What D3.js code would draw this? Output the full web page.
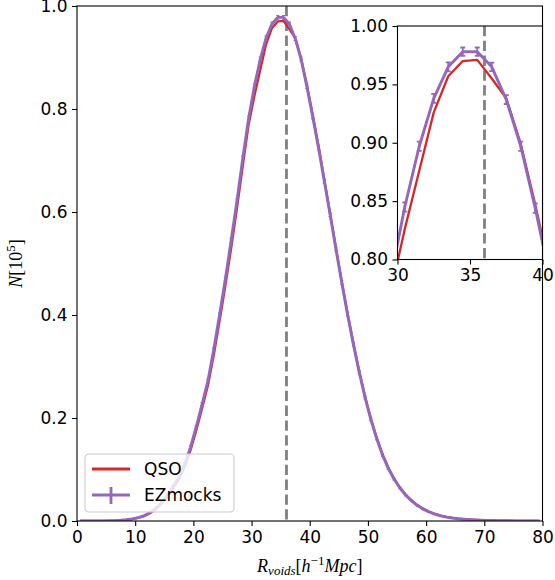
<!DOCTYPE html>
<html>
<head>
<meta charset="utf-8">
<script src="https://cdn.jsdelivr.net/npm/d3@7"></script>
<style>
    body { margin: 0; background: #fff; }
    svg text { font-family: "DejaVu Sans", sans-serif; fill: #000; }
    .math { font-family: "Liberation Serif", "DejaVu Serif", serif; font-style: italic; }
</style>
</head>
<body>
<script>

// bin centres of the void radius histogram (h^-1 Mpc)
const radius = [
    0.5, 1.5, 2.5, 3.5, 4.5, 5.5, 6.5, 7.5, 8.5, 9.5,
    10.5, 11.5, 12.5, 13.5, 14.5, 15.5, 16.5, 17.5, 18.5, 19.5,
    20.5, 21.5, 22.5, 23.5, 24.5, 25.5, 26.5, 27.5, 28.5, 29.5,
    30.5, 31.5, 32.5, 33.5, 34.5, 35.5, 36.5, 37.5, 38.5, 39.5,
    40.5, 41.5, 42.5, 43.5, 44.5, 45.5, 46.5, 47.5, 48.5, 49.5,
    50.5, 51.5, 52.5, 53.5, 54.5, 55.5, 56.5, 57.5, 58.5, 59.5,
    60.5, 61.5, 62.5, 63.5, 64.5, 65.5, 66.5, 67.5, 68.5, 69.5,
    70.5, 71.5, 72.5, 73.5, 74.5, 75.5, 76.5, 77.5, 78.5, 79.5
];

// N [10^5] for the QSO catalogue
const qsoCounts = [
    0.0000, 0.0000, 0.0000, 0.0001, 0.0002, 0.0004, 0.0007, 0.0013, 0.0023, 0.0037,
    0.0060, 0.0094, 0.0148, 0.0224, 0.0330, 0.0465, 0.0635, 0.0810, 0.1050, 0.1370,
    0.1760, 0.2190, 0.2630, 0.3220, 0.3880, 0.4570, 0.5300, 0.6080, 0.6900, 0.7700,
    0.8260, 0.8760, 0.9260, 0.9570, 0.9700, 0.9710, 0.9550, 0.9380, 0.8990, 0.8470,
    0.7900, 0.7290, 0.6630, 0.5970, 0.5300, 0.4650, 0.4030, 0.3450, 0.2910, 0.2420,
    0.1990, 0.1620, 0.1300, 0.1040, 0.0825, 0.0650, 0.0510, 0.0400, 0.0310, 0.0240,
    0.0182, 0.0138, 0.0104, 0.0079, 0.0060, 0.0046, 0.0035, 0.0027, 0.0021, 0.0016,
    0.0012, 0.0009, 0.0007, 0.0005, 0.0004, 0.0003, 0.0002, 0.0002, 0.0001, 0.0001
];

// N [10^5] mean of the EZmocks
const ezCounts = [
    0.0000, 0.0000, 0.0000, 0.0001, 0.0002, 0.0004, 0.0008, 0.0014, 0.0025, 0.0040,
    0.0065, 0.0100, 0.0160, 0.0240, 0.0350, 0.0490, 0.0670, 0.0850, 0.1100, 0.1430,
    0.1830, 0.2270, 0.2720, 0.3330, 0.4000, 0.4700, 0.5450, 0.6220, 0.7050, 0.7820,
    0.8450, 0.8970, 0.9380, 0.9650, 0.9780, 0.9780, 0.9650, 0.9370, 0.8970, 0.8440,
    0.7850, 0.7250, 0.6600, 0.5950, 0.5280, 0.4630, 0.4010, 0.3430, 0.2890, 0.2400,
    0.1970, 0.1600, 0.1280, 0.1020, 0.0810, 0.0640, 0.0500, 0.0390, 0.0300, 0.0230,
    0.0175, 0.0133, 0.0100, 0.0076, 0.0058, 0.0044, 0.0034, 0.0026, 0.0020, 0.0015,
    0.0012, 0.0009, 0.0007, 0.0005, 0.0004, 0.0003, 0.0002, 0.0002, 0.0001, 0.0001
];

// error on the EZmocks mean
const ezErrors = [
    0.0000, 0.0000, 0.0000, 0.0001, 0.0001, 0.0002, 0.0002, 0.0003, 0.0004, 0.0005,
    0.0006, 0.0008, 0.0010, 0.0012, 0.0014, 0.0017, 0.0019, 0.0021, 0.0024, 0.0026,
    0.0028, 0.0030, 0.0032, 0.0033, 0.0035, 0.0036, 0.0037, 0.0038, 0.0039, 0.0040,
    0.0040, 0.0040, 0.0039, 0.0038, 0.0036, 0.0036, 0.0037, 0.0038, 0.0039, 0.0040,
    0.0040, 0.0040, 0.0039, 0.0038, 0.0037, 0.0035, 0.0034, 0.0032, 0.0030, 0.0028,
    0.0026, 0.0024, 0.0022, 0.0019, 0.0017, 0.0015, 0.0013, 0.0012, 0.0010, 0.0009,
    0.0008, 0.0007, 0.0006, 0.0005, 0.0004, 0.0004, 0.0003, 0.0003, 0.0002, 0.0002,
    0.0002, 0.0001, 0.0001, 0.0001, 0.0001, 0.0000, 0.0000, 0.0000, 0.0000, 0.0000
];

const peakRadius = 36;
const mainXTicks = [0, 10, 20, 30, 40, 50, 60, 70, 80];
const mainYTicks = [0.0, 0.2, 0.4, 0.6, 0.8, 1.0];
const insetXTicks = [30, 35, 40];
const insetYTicks = [0.80, 0.85, 0.90, 0.95, 1.00];

const COLORS = { qso: "#d62728", ez: "#9467bd", peak: "#808080" };

const SCREEN = { width: 555, height: 580 };
const MAIN = { left: 77, right: 542.5, top: 6, bottom: 521, cap: 1.6, capWidth: 1.1 };
const INSET = { left: 397.5, right: 542.5, top: 26, bottom: 259.5, cap: 2.5, capWidth: 1.8 };

const rows = radius.map((r, i) => ({ r: r, qso: qsoCounts[i], ez: ezCounts[i], err: ezErrors[i] }));

const svg = d3.select("body").append("svg")
    .attr("width", SCREEN.width)
    .attr("height", SCREEN.height);

function drawPanel(box, xDomain, yDomain, xTicks, yTicks, xFmt, yFmt, id) {
    const x = d3.scaleLinear(xDomain, [box.left, box.right]);
    const y = d3.scaleLinear(yDomain, [box.bottom, box.top]);
    const g = svg.append("g");

    g.append("rect")
        .attr("x", box.left).attr("y", box.top)
        .attr("width", box.right - box.left).attr("height", box.bottom - box.top)
        .attr("fill", "#fff");

    g.append("clipPath").attr("id", id)
        .append("rect")
        .attr("x", box.left).attr("y", box.top)
        .attr("width", box.right - box.left).attr("height", box.bottom - box.top);

    const plot = g.append("g").attr("clip-path", `url(#${id})`);

    // vertical reference line at the peak
    plot.append("line")
        .attr("x1", x(peakRadius)).attr("x2", x(peakRadius))
        .attr("y1", box.top).attr("y2", box.bottom)
        .attr("stroke", COLORS.peak)
        .attr("stroke-width", 2.8)
        .attr("stroke-dasharray", "10.3,4.5");

    plot.append("path")
        .datum(rows)
        .attr("fill", "none")
        .attr("stroke", COLORS.qso)
        .attr("stroke-width", 2.3)
        .attr("stroke-linejoin", "round")
        .attr("d", d3.line().x(d => x(d.r)).y(d => y(d.qso)));

    plot.append("path")
        .datum(rows)
        .attr("fill", "none")
        .attr("stroke", COLORS.ez)
        .attr("stroke-width", 2.9)
        .attr("stroke-linejoin", "round")
        .attr("d", d3.line().x(d => x(d.r)).y(d => y(d.ez)));

    // error bars with caps
    const bars = plot.append("g")
        .attr("stroke", COLORS.ez)
        .attr("stroke-width", box.capWidth)
        .selectAll("g")
        .data(rows.filter(d => d.err > 0))
        .join("g");
    bars.append("line")
        .attr("x1", d => x(d.r)).attr("x2", d => x(d.r))
        .attr("y1", d => y(d.ez - d.err)).attr("y2", d => y(d.ez + d.err));
    bars.append("line")
        .attr("x1", d => x(d.r) - box.cap).attr("x2", d => x(d.r) + box.cap)
        .attr("y1", d => y(d.ez - d.err)).attr("y2", d => y(d.ez - d.err));
    bars.append("line")
        .attr("x1", d => x(d.r) - box.cap).attr("x2", d => x(d.r) + box.cap)
        .attr("y1", d => y(d.ez + d.err)).attr("y2", d => y(d.ez + d.err));

    // axes
    const xAxis = g.append("g")
        .attr("transform", `translate(0,${box.bottom})`)
        .call(d3.axisBottom(x).tickValues(xTicks).tickFormat(xFmt).tickSize(5).tickPadding(4.5));
    const yAxis = g.append("g")
        .attr("transform", `translate(${box.left},0)`)
        .call(d3.axisLeft(y).tickValues(yTicks).tickFormat(yFmt).tickSize(5).tickPadding(4.5));
    [xAxis, yAxis].forEach(a => {
        a.select(".domain").remove();
        a.selectAll(".tick line").attr("stroke", "#000").attr("stroke-width", 1.1);
        a.selectAll("text").attr("font-size", 17).attr("font-family", "DejaVu Sans");
    });

    g.append("rect")
        .attr("x", box.left).attr("y", box.top)
        .attr("width", box.right - box.left).attr("height", box.bottom - box.top)
        .attr("fill", "none")
        .attr("stroke", "#000")
        .attr("stroke-width", 1.1);

    return { x, y, g };
}

drawPanel(MAIN, [0, 80], [0, 1], mainXTicks, mainYTicks, d3.format("d"), d3.format(".1f"), "clip-main");

// legend
const legend = svg.append("g").attr("transform", "translate(85,454)");
legend.append("rect")
    .attr("width", 149).attr("height", 58)
    .attr("rx", 4)
    .attr("fill", "#fff").attr("fill-opacity", 0.8)
    .attr("stroke", "#cccccc").attr("stroke-width", 1.1);
legend.append("line")
    .attr("x1", 7).attr("x2", 45).attr("y1", 15).attr("y2", 15)
    .attr("stroke", COLORS.qso).attr("stroke-width", 2.8);
legend.append("text")
    .attr("x", 59).attr("y", 21)
    .attr("font-size", 17)
    .text("QSO");
legend.append("line")
    .attr("x1", 7).attr("x2", 45).attr("y1", 41).attr("y2", 41)
    .attr("stroke", COLORS.ez).attr("stroke-width", 2.8);
legend.append("line")
    .attr("x1", 26).attr("x2", 26).attr("y1", 33).attr("y2", 50)
    .attr("stroke", COLORS.ez).attr("stroke-width", 2.8);
legend.append("text")
    .attr("x", 59).attr("y", 47)
    .attr("font-size", 17)
    .text("EZmocks");

drawPanel(INSET, [30, 40], [0.8, 1.0], insetXTicks, insetYTicks, d3.format("d"), d3.format(".2f"), "clip-inset");

// axis labels (math style)
const xLabel = svg.append("text")
    .attr("class", "math")
    .attr("x", (MAIN.left + MAIN.right) / 2)
    .attr("y", 572)
    .attr("text-anchor", "middle")
    .attr("font-size", 18);
xLabel.append("tspan").text("R");
xLabel.append("tspan").attr("font-size", 13).attr("dy", 3).text("voids");
xLabel.append("tspan").attr("dy", -3).attr("font-style", "normal").text("[");
xLabel.append("tspan").text("h");
xLabel.append("tspan").attr("font-size", 13).attr("dy", -7).attr("font-style", "normal").text("\u22121");
xLabel.append("tspan").attr("dy", 7).text("Mpc");
xLabel.append("tspan").attr("font-style", "normal").text("]");

const yLabel = svg.append("text")
    .attr("class", "math")
    .attr("transform", `translate(22,${(MAIN.top + MAIN.bottom) / 2}) rotate(-90)`)
    .attr("text-anchor", "middle")
    .attr("font-size", 18);
yLabel.append("tspan").text("N");
yLabel.append("tspan").attr("font-style", "normal").text("[10");
yLabel.append("tspan").attr("font-style", "normal").attr("font-size", 13).attr("dy", -7).text("5");
yLabel.append("tspan").attr("font-style", "normal").attr("dy", 7).text("]");

</script>
</body>
</html>
